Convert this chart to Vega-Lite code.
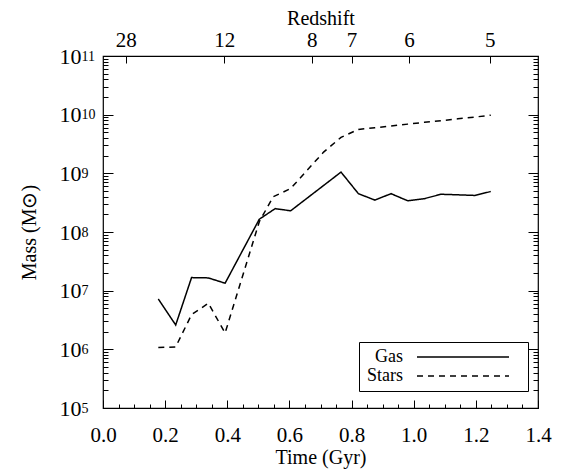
{
  "$schema": "https://vega.github.io/schema/vega-lite/v6.json",
  "autosize": "none",
  "width": 435,
  "height": 352,
  "padding": {"left": 103, "top": 56, "right": 27, "bottom": 68},
  "background": "white",
  "config": {
    "font": "Liberation Serif",
    "view": {"stroke": "black", "strokeWidth": 1.2},
    "axis": {
      "labelFont": "Liberation Serif",
      "titleFont": "Liberation Serif",
      "labelFontSize": 21,
      "titleFontSize": 20,
      "titleFontWeight": "normal",
      "labelColor": "black",
      "titleColor": "black",
      "tickColor": "black",
      "tickWidth": 1,
      "domain": false,
      "grid": false,
      "labelOverlap": false,
      "labelFlush": false
    },
    "legend": {
      "labelFont": "Liberation Serif",
      "labelFontSize": 18,
      "labelColor": "black"
    }
  },
  "data": {
    "values": [
      {"t": 0.178, "series": "Gas", "mass": 7.2e6},
      {"t": 0.234, "series": "Gas", "mass": 2.6e6},
      {"t": 0.285, "series": "Gas", "mass": 1.67e7},
      {"t": 0.339, "series": "Gas", "mass": 1.65e7},
      {"t": 0.393, "series": "Gas", "mass": 1.34e7},
      {"t": 0.503, "series": "Gas", "mass": 1.65e8},
      {"t": 0.554, "series": "Gas", "mass": 2.5e8},
      {"t": 0.604, "series": "Gas", "mass": 2.3e8},
      {"t": 0.766, "series": "Gas", "mass": 1.05e9},
      {"t": 0.822, "series": "Gas", "mass": 4.5e8},
      {"t": 0.875, "series": "Gas", "mass": 3.5e8},
      {"t": 0.927, "series": "Gas", "mass": 4.5e8},
      {"t": 0.981, "series": "Gas", "mass": 3.4e8},
      {"t": 1.034, "series": "Gas", "mass": 3.7e8},
      {"t": 1.088, "series": "Gas", "mass": 4.4e8},
      {"t": 1.142, "series": "Gas", "mass": 4.3e8},
      {"t": 1.197, "series": "Gas", "mass": 4.2e8},
      {"t": 1.248, "series": "Gas", "mass": 4.9e8},
      {"t": 0.178, "series": "Stars", "mass": 1.07e6},
      {"t": 0.234, "series": "Stars", "mass": 1.1e6},
      {"t": 0.285, "series": "Stars", "mass": 3.9e6},
      {"t": 0.339, "series": "Stars", "mass": 6.1e6},
      {"t": 0.393, "series": "Stars", "mass": 1.9e6},
      {"t": 0.503, "series": "Stars", "mass": 1.5e8},
      {"t": 0.548, "series": "Stars", "mass": 4.0e8},
      {"t": 0.604, "series": "Stars", "mass": 5.5e8},
      {"t": 0.655, "series": "Stars", "mass": 1.1e9},
      {"t": 0.71, "series": "Stars", "mass": 2.3e9},
      {"t": 0.766, "series": "Stars", "mass": 4.1e9},
      {"t": 0.822, "series": "Stars", "mass": 5.6e9},
      {"t": 0.875, "series": "Stars", "mass": 6.0e9},
      {"t": 0.927, "series": "Stars", "mass": 6.4e9},
      {"t": 0.981, "series": "Stars", "mass": 6.9e9},
      {"t": 1.034, "series": "Stars", "mass": 7.4e9},
      {"t": 1.088, "series": "Stars", "mass": 7.9e9},
      {"t": 1.142, "series": "Stars", "mass": 8.5e9},
      {"t": 1.197, "series": "Stars", "mass": 9.1e9},
      {"t": 1.248, "series": "Stars", "mass": 9.8e9}
    ]
  },
  "resolve": {"axis": {"x": "independent", "y": "independent"}},
  "layer": [
    {
      "mark": {"type": "line", "color": "black", "strokeWidth": 1.5, "clip": true},
      "encoding": {
        "x": {
          "field": "t", "type": "quantitative",
          "scale": {"domain": [0, 1.4], "nice": false, "zero": false},
          "axis": {
            "orient": "bottom",
            "values": [0, 0.2, 0.4, 0.6, 0.8, 1.0, 1.2, 1.4],
            "format": ".1f",
            "tickSize": -8,
            "labelPadding": 24,
            "title": "Time (Gyr)",
            "titlePadding": 2
          }
        },
        "y": {
          "field": "mass", "type": "quantitative",
          "scale": {"type": "log", "domain": [1e5, 1e11], "nice": false},
          "axis": {
            "orient": "left",
            "values": [1e5, 1e6, 1e7, 1e8, 1e9, 1e10, 1e11],
            "labelExpr": "'10'",
            "labelFontSize": 22,
            "tickSize": -10,
            "labelPadding": 32,
            "title": "Mass (M⊙)",
            "titlePadding": 20
          }
        },
        "strokeDash": {
          "field": "series", "type": "nominal",
          "scale": {"domain": ["Gas", "Stars"], "range": [[1, 0], [6, 5]]},
          "legend": {
            "title": null,
            "orient": "none",
            "legendX": 256,
            "legendY": 286,
            "strokeColor": "black",
            "fillColor": "white",
            "padding": 6,
            "symbolType": "M43,0H135M145,0",
            "symbolSize": 4,
            "symbolStrokeColor": "black",
            "symbolStrokeWidth": 1.3,
            "labelAlign": "right",
            "labelOffset": 20,
            "rowPadding": 1
          }
        }
      }
    },
    {
      "mark": {"type": "point", "opacity": 0},
      "encoding": {
        "x": {
          "field": "t", "type": "quantitative",
          "axis": {
            "orient": "bottom",
            "values": [0.05, 0.1, 0.15, 0.25, 0.3, 0.35, 0.45, 0.5, 0.55, 0.65, 0.7, 0.75, 0.85, 0.9, 0.95, 1.05, 1.1, 1.15, 1.25, 1.3, 1.35],
            "labels": false,
            "tickSize": -4,
            "title": null
          }
        },
        "y": {
          "field": "mass", "type": "quantitative",
          "axis": {
            "orient": "left",
            "values": [2e5,3e5,4e5,5e5,6e5,7e5,8e5,9e5,2e6,3e6,4e6,5e6,6e6,7e6,8e6,9e6,2e7,3e7,4e7,5e7,6e7,7e7,8e7,9e7,2e8,3e8,4e8,5e8,6e8,7e8,8e8,9e8,2e9,3e9,4e9,5e9,6e9,7e9,8e9,9e9,2e10,3e10,4e10,5e10,6e10,7e10,8e10,9e10],
            "labels": false,
            "tickSize": -5,
            "title": null
          }
        }
      }
    },
    {
      "mark": {"type": "point", "opacity": 0},
      "encoding": {
        "x": {
          "field": "t", "type": "quantitative",
          "axis": {
            "orient": "top",
            "values": [0.073, 0.39, 0.672, 0.8, 0.985, 1.245],
            "labelExpr": "datum.value < 0.2 ? '28' : datum.value < 0.5 ? '12' : datum.value < 0.75 ? '8' : datum.value < 0.9 ? '7' : datum.value < 1.1 ? '6' : '5'",
            "tickSize": -7,
            "labelPadding": 13,
            "title": "Redshift",
            "titlePadding": 1
          }
        },
        "y": {
          "field": "mass", "type": "quantitative",
          "axis": {
            "orient": "right",
            "values": [1e5, 1e6, 1e7, 1e8, 1e9, 1e10, 1e11],
            "labels": false,
            "tickSize": -10,
            "title": null
          }
        }
      }
    },
    {
      "mark": {"type": "point", "opacity": 0},
      "encoding": {
        "x": {"field": "t", "type": "quantitative", "axis": null},
        "y": {
          "field": "mass", "type": "quantitative",
          "axis": {
            "orient": "right",
            "values": [2e5,3e5,4e5,5e5,6e5,7e5,8e5,9e5,2e6,3e6,4e6,5e6,6e6,7e6,8e6,9e6,2e7,3e7,4e7,5e7,6e7,7e7,8e7,9e7,2e8,3e8,4e8,5e8,6e8,7e8,8e8,9e8,2e9,3e9,4e9,5e9,6e9,7e9,8e9,9e9,2e10,3e10,4e10,5e10,6e10,7e10,8e10,9e10],
            "labels": false,
            "tickSize": -5,
            "title": null
          }
        }
      }
    },
    {
      "mark": {"type": "point", "opacity": 0},
      "encoding": {
        "x": {"field": "t", "type": "quantitative", "axis": null},
        "y": {
          "field": "mass", "type": "quantitative",
          "axis": {
            "orient": "left",
            "values": [1e5, 1e6, 1e7, 1e8, 1e9, 1e10, 1e11],
            "labelExpr": "format(round(log(datum.value)/LN10), 'd')",
            "labelFontSize": 14,
            "labelAlign": "left",
            "labelDy": -6,
            "ticks": false,
            "tickSize": 0,
            "labelPadding": 22,
            "title": null
          }
        }
      }
    }
  ]
}
